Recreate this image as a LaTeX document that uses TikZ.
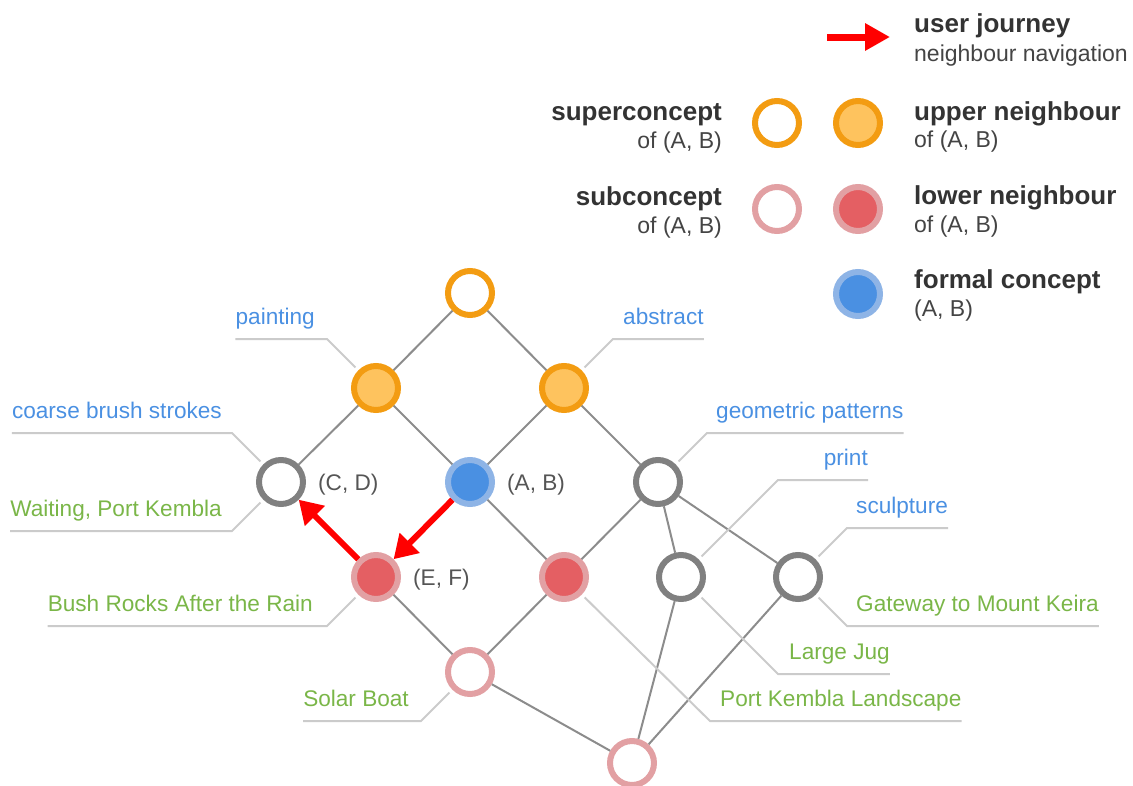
\documentclass[tikz,border=0pt]{standalone}
\usepackage{fontspec}
\setmainfont{Liberation Sans}
\usetikzlibrary{arrows.meta,positioning,calc}
\definecolor{korange}{HTML}{F39C12}
\definecolor{kpeach}{HTML}{FEC35E}
\definecolor{kred}{HTML}{E45F63}
\definecolor{kpink}{HTML}{E2A0A3}
\definecolor{kblue}{HTML}{4A90E2}
\definecolor{kbluel}{HTML}{8EB4E6}
\definecolor{kgrey}{HTML}{808080}
\definecolor{kedge}{HTML}{8C8C8C}
\definecolor{klead}{HTML}{CBCBCB}
\definecolor{kgreen}{HTML}{7AB648}
\definecolor{khead}{HTML}{333333}
\definecolor{ksub}{HTML}{444444}
\definecolor{kpair}{HTML}{555555}
\newcommand{\lblfont}{\fontsize{22.6}{27}\selectfont}
\newcommand{\subfont}{\fontsize{23}{28}\selectfont}
\newcommand{\keyfont}{\fontsize{26}{31}\selectfont\bfseries}

\begin{document}
\begin{tikzpicture}[x=1pt, y=-1pt,
  font=\lblfont,
  cnode/.style={circle, draw, line width=6pt, minimum size=44pt, inner sep=0pt},
  supc/.style={cnode, draw=korange, fill=white},
  upn/.style={cnode, draw=korange, fill=kpeach},
  subc/.style={cnode, draw=kpink, fill=white},
  lown/.style={cnode, draw=kpink, fill=kred},
  formc/.style={cnode, draw=kbluel, fill=kblue},
  plain/.style={cnode, draw=kgrey, fill=white},
  edge/.style={draw=kedge, line width=2pt},
  leader/.style={draw=klead, line width=2pt, shorten >=4pt},
  journey/.style={->, draw=red, line width=6pt},
  tag/.style={inner sep=0pt, text depth=14pt},
  attr/.style={tag, text=kblue},
  obj/.style={tag, text=kgreen},
  pair/.style={text=kpair, inner sep=0pt},
  keyhead/.style={font=\keyfont, text=khead, inner sep=0pt, anchor=base west},
  keysub/.style={font=\subfont, text=ksub, inner sep=0pt, anchor=base west},
  >={Triangle[length=23pt, width=27pt]}]
\useasboundingbox (0,0) rectangle (1133,785);

% ---------------- lattice ----------------
\node[supc]  (top)  at (470,293) {};
\node[upn]   (upL)  at (376,388) {};
\node[upn]   (upR)  at (564,388) {};
\node[plain] (cd)   at (281,482) {};
\node[formc] (ab)   at (470,482) {};
\node[plain] (geo)  at (658,482) {};
\node[lown]  (ef)   at (376,577) {};
\node[lown]  (lowR) at (564,577) {};
\node[plain] (prt)  at (681,577) {};
\node[plain] (scu)  at (798,577) {};
\node[subc]  (sol)  at (470,672) {};
\node[subc]  (bot)  at (632,763) {};
\foreach \a/\b in {top/upL, top/upR, upL/cd, upL/ab, upR/ab, upR/geo,
                   ab/lowR, geo/lowR, geo/prt, geo/scu, ef/sol, lowR/sol,
                   sol/bot, prt/bot, scu/bot}{
  \draw[edge] (\a) -- (\b);}

\node[pair, right=12pt of cd, yshift=-3pt] (t-cd) {(C, D)};
\node[pair, right=12pt of ab, yshift=-3pt] (t-ab) {(A, B)};
\node[pair, right=12pt of ef, yshift=-3pt] (t-ef) {(E, F)};

% ---------------- labels with leaders ----------------
\foreach \n/\dx/\dy/\k in {upL/-49/-49/paint, upR/49/-49/abst, cd/-49/-49/cbs,
                           cd/-49/49/wait, geo/49/-49/geo, ef/-49/49/bush,
                           prt/97/-97/prt, scu/49/-49/scu, scu/49/49/gate,
                           prt/97/97/jug, lowR/146/144/pkl, sol/-49/49/sol}{
  \coordinate (k-\k) at ($(\n)+(\dx,\dy)$);}

\node[attr, anchor=south east] (l-paint) at ([xshift=-12pt]k-paint) {painting};
\node[attr, anchor=south west] (l-abst)  at ([xshift=10pt]k-abst) {abstract};
\node[attr, anchor=south east] (l-cbs)   at ([xshift=-10pt]k-cbs) {coarse brush strokes};
\node[obj,  anchor=south east] (l-wait)  at ([xshift=-10pt]k-wait) {Waiting, Port Kembla};
\node[attr, anchor=south west] (l-geo)   at ([xshift=9pt]k-geo) {geometric patterns};
\node[obj,  anchor=south east] (l-bush)  at ([xshift=-14pt]k-bush) {Bush Rocks After the Rain};
\node[attr, anchor=south east] (l-prt)   at ([xshift=90pt]k-prt) {print};
\node[attr, anchor=south west] (l-scu)   at ([xshift=9pt]k-scu) {sculpture};
\node[obj,  anchor=south west] (l-gate)  at ([xshift=9pt]k-gate) {Gateway to Mount Keira};
\node[obj,  anchor=south west] (l-jug)   at ([xshift=11pt]k-jug) {Large Jug};
\node[obj,  anchor=south west] (l-pkl)   at ([xshift=10pt]k-pkl) {Port Kembla Landscape};
\node[obj,  anchor=south east] (l-sol)   at ([xshift=-12pt]k-sol) {Solar Boat};

\draw[leader] (l-paint.south west) -- (k-paint) -- (upL);
\draw[leader] (l-cbs.south west)   -- (k-cbs)   -- (cd);
\draw[leader] (l-wait.south west)  -- (k-wait)  -- (cd);
\draw[leader] (l-bush.south west)  -- (k-bush)  -- (ef);
\draw[leader] (l-sol.south west)   -- (k-sol)   -- (sol);
\draw[leader] (l-abst.south east)  -- (k-abst)  -- (upR);
\draw[leader] (l-geo.south east)   -- (k-geo)   -- (geo);
\draw[leader] (l-prt.south east)   -- (k-prt)   -- (prt);
\draw[leader] (l-scu.south east)   -- (k-scu)   -- (scu);
\draw[leader] (l-gate.south east)  -- (k-gate)  -- (scu);
\draw[leader] (l-jug.south east)   -- (k-jug)   -- (prt);
\draw[leader] (l-pkl.south east)   -- (k-pkl)   -- (lowR);

% user journey
\draw[journey] (ef) -- (cd);
\draw[journey] (ab) -- (ef);

% ---------------- legend ----------------
\coordinate (j-from) at (827,37);
\coordinate (j-to)   at (890,37);
\draw[journey, line width=7pt, -{Triangle[length=25pt, width=26pt]}] (j-from) -- (j-to);
\node[keyhead] (h-jour) at (914,32) {user journey};
\node[keysub]  (s-jour) at (914,61) {neighbour navigation};

\node[supc]  (key-sup)  at (777,123) {};
\node[upn]   (key-up)   at (858,123) {};
\node[subc]  (key-sub)  at (777,209) {};
\node[lown]  (key-low)  at (858,209) {};
\node[formc] (key-form) at (858,294) {};

\node[keyhead, anchor=base east] (h-sup) at (722,120) {superconcept};
\node[keysub,  anchor=base east] (s-sup) at (722,148) {of (A, B)};
\node[keyhead, anchor=base east] (h-sub) at (722,205) {subconcept};
\node[keysub,  anchor=base east] (s-sub) at (722,233) {of (A, B)};
\node[keyhead] (h-up)   at (914,120) {upper neighbour};
\node[keysub]  (s-up)   at (914,147) {of (A, B)};
\node[keyhead] (h-low)  at (914,204) {lower neighbour};
\node[keysub]  (s-low)  at (914,232) {of (A, B)};
\node[keyhead] (h-form) at (914,288) {formal concept};
\node[keysub]  (s-form) at (914,316) {(A, B)};
\end{tikzpicture}
\end{document}
